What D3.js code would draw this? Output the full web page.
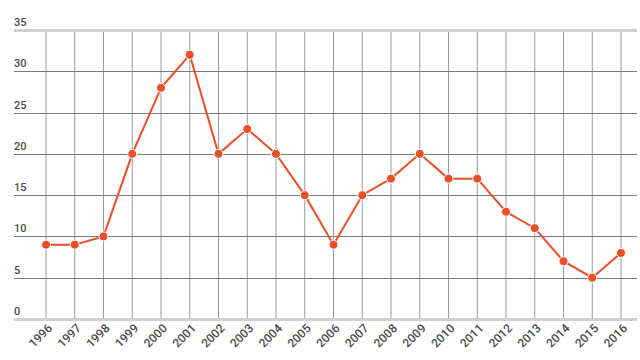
<!DOCTYPE html>
<html>
<head>
<meta charset="utf-8">
<script src="https://cdn.jsdelivr.net/npm/d3@7"></script>
<style>
  body { margin: 0; background: #fff; }
  text { font-family: Roboto, "Open Sans", sans-serif; font-weight: 500; fill: #4a4a4a; font-size: 11px; }
  .x-label { font-size: 12px; }
</style>
</head>
<body>
<svg id="chart" width="640" height="360"></svg>
<script>
const years = ["1996","1997","1998","1999","2000","2001","2002","2003","2004","2005","2006",
               "2007","2008","2009","2010","2011","2012","2013","2014","2015","2016"]
const values = [9, 9, 10, 20, 28, 32, 20, 23, 20, 15, 9, 15, 17, 20, 17, 17, 13, 11, 7, 5, 8]
const yTicks = [0, 5, 10, 15, 20, 25, 30, 35]

const dimensions = {
    width: 640,
    height: 360,
    left: 14,
    right: 637,
    top: 30,
    bottom: 319,
}

const svg = d3.select("#chart")

// scales
const xScale = d3.scalePoint()
    .domain(years)
    .range([46, 621])

const yScale = d3.scaleLinear()
    .domain([0, 35])
    .range([dimensions.bottom, dimensions.top])

// vertical grid
svg.append("g")
    .selectAll("line")
    .data(years)
    .join("line")
    .attr("x1", d => xScale(d))
    .attr("x2", d => xScale(d))
    .attr("y1", dimensions.top)
    .attr("y2", dimensions.bottom)
    .attr("stroke", "#9a9a9a")
    .attr("stroke-width", 1)

// horizontal grid
svg.append("g")
    .selectAll("line")
    .data(yTicks)
    .join("line")
    .attr("x1", dimensions.left)
    .attr("x2", dimensions.right)
    .attr("y1", d => Math.round(yScale(d)) + 0.5)
    .attr("y2", d => Math.round(yScale(d)) + 0.5)
    .attr("stroke", d => (d == 0 || d == 35) ? "#d0d0d0" : "#7a7a7a")
    .attr("stroke-width", d => (d == 0 || d == 35) ? 3 : 1)

// y labels
svg.append("g")
    .selectAll("text")
    .data(yTicks)
    .join("text")
    .attr("x", dimensions.left)
    .attr("y", d => yScale(d) - 4)
    .text(d => d)

// x labels
svg.append("g")
    .selectAll("text")
    .data(years)
    .join("text")
    .attr("class", "x-label")
    .attr("text-anchor", "end")
    .attr("transform", d => `translate(${xScale(d) + 7},${dimensions.bottom + 10}) rotate(-45)`)
    .text(d => d)

// line
const lineGenerator = d3.line()
    .x((d, i) => xScale(years[i]))
    .y(d => yScale(d))

svg.append("path")
    .attr("d", lineGenerator(values))
    .attr("fill", "none")
    .attr("stroke", "#e8502a")
    .attr("stroke-width", 2)

svg.append("g")
    .selectAll("circle")
    .data(values)
    .join("circle")
    .attr("cx", (d, i) => xScale(years[i]))
    .attr("cy", d => yScale(d))
    .attr("r", 4.5)
    .attr("fill", "#e8502a")
    .attr("stroke", "#fff")
    .attr("stroke-width", 1)
</script>
</body>
</html>
